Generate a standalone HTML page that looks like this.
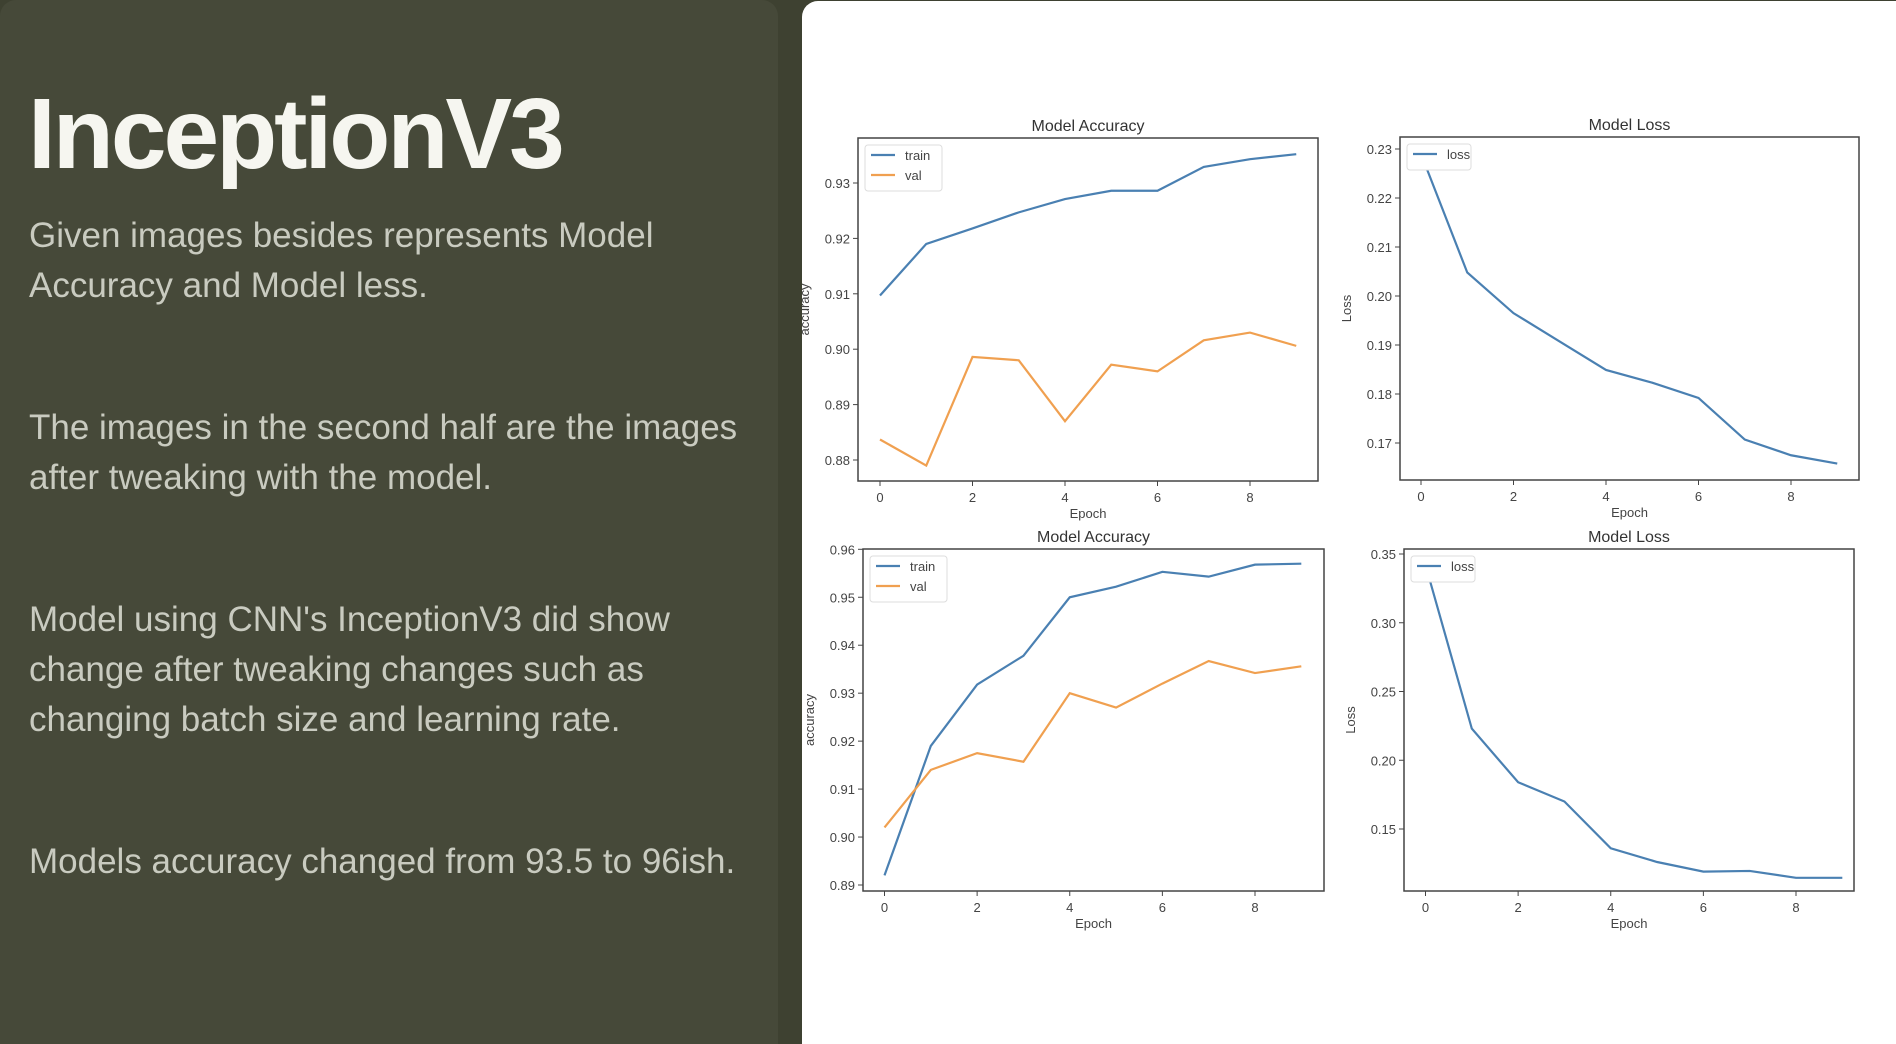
<!DOCTYPE html>
<html><head><meta charset="utf-8">
<style>
html,body{margin:0;padding:0;overflow:hidden;width:1896px;height:1044px}
body{background:#3e4131;position:relative;font-family:"Liberation Sans",sans-serif}
#left{position:absolute;left:0;top:0;width:778px;height:1044px;background:#464939;border-radius:16px 16px 0 0}
#right{position:absolute;left:802px;top:1px;width:1094px;height:1043px;background:#fff;border-radius:16px 0 0 0}
.title{position:absolute;left:28px;top:84px;font-size:100px;font-weight:bold;color:#f6f6f0;line-height:1;letter-spacing:-3px}
.p{position:absolute;left:29px;font-size:35px;color:#c9cbc0;line-height:50px}
svg{position:absolute;left:0;top:0}
</style></head>
<body>
<div id="left"></div>
<div id="right"></div>
<div class="title">InceptionV3</div>
<div class="p" style="top:211px">Given images besides represents Model<br>Accuracy and Model less.</div>
<div class="p" style="top:403px">The images in the second half are the images<br>after tweaking with the model.</div>
<div class="p" style="top:595px">Model using CNN's InceptionV3 did show<br>change after tweaking changes such as<br>changing batch size and learning rate.</div>
<div class="p" style="top:837px">Models accuracy changed from 93.5 to 96ish.</div>
<svg id="charts" width="1896" height="1044"></svg>
<script>
const epochs=[0,1,2,3,4,5,6,7,8,9];
const xTicks=[0,2,4,6,8];
const acc1Train=[0.9097,0.9190,0.9218,0.9247,0.9271,0.9286,0.9286,0.9329,0.9343,0.9352];
const acc1Val=[0.8837,0.8790,0.8986,0.8980,0.8870,0.8972,0.8960,0.9016,0.9030,0.9006];
const acc1Ticks=[0.88,0.89,0.90,0.91,0.92,0.93];
const loss1=[0.2290,0.2048,0.1965,0.1907,0.1849,0.1823,0.1792,0.1707,0.1675,0.1658];
const loss1Ticks=[0.17,0.18,0.19,0.20,0.21,0.22,0.23];
const acc2Train=[0.8920,0.9190,0.9318,0.9378,0.9500,0.9522,0.9553,0.9543,0.9568,0.9570];
const acc2Val=[0.9020,0.9140,0.9175,0.9157,0.9300,0.9270,0.9320,0.9367,0.9342,0.9356];
const acc2Ticks=[0.89,0.90,0.91,0.92,0.93,0.94,0.95,0.96];
const loss2=[0.342,0.223,0.184,0.170,0.136,0.126,0.119,0.1195,0.1145,0.1145];
const loss2Ticks=[0.15,0.20,0.25,0.30,0.35];

const NS='http://www.w3.org/2000/svg';
const svg=document.getElementById('charts');
const BLUE='#4a80b2',ORANGE='#f0a050';
function mk(tag,attrs,parent){const e=document.createElementNS(NS,tag);for(const k in attrs)e.setAttribute(k,attrs[k]);(parent||svg).appendChild(e);return e;}

function chart(c){
  const g=mk('g',{});
  
  
  const X=v=>c.x0+(v-0)*(c.x8-c.x0)/8;
  const Y=v=>c.yp0+(v-c.t0)*(c.yp1-c.yp0)/(c.t1-c.t0);
  const r=mk('rect',{x:c.l,y:c.t,width:c.r-c.l,height:c.b-c.t,fill:'none',stroke:'#444','stroke-width':1.5},g);
  
  
  const ti=mk('text',{x:(c.l+c.r)/2,y:c.t-7,'text-anchor':'middle','font-size':16,fill:'#333'},g);ti.textContent=c.title;
  
  
  xTicks.forEach(t=>{
    mk('line',{x1:X(t),x2:X(t),y1:c.b,y2:c.b+5,stroke:'#444'},g);
    const tx=mk('text',{x:X(t),y:c.b+21,'text-anchor':'middle','font-size':13,fill:'#444'},g);tx.textContent=t;
    
    
  });
  c.ticks.forEach(t=>{
    mk('line',{x1:c.l-5,x2:c.l,y1:Y(t),y2:Y(t),stroke:'#444'},g);
    const ty=mk('text',{x:c.l-8,y:Y(t)+5,'text-anchor':'end','font-size':13,fill:'#444'},g);ty.textContent=t.toFixed(2);
    
    
  });
  const xl=mk('text',{x:(c.l+c.r)/2,y:c.b+37,'text-anchor':'middle','font-size':13,fill:'#444'},g);xl.textContent='Epoch';
  
  
  const yx=c.l-49,yy=(c.t+c.b)/2;
  const yl=mk('text',{x:yx,y:yy,'text-anchor':'middle','font-size':13,fill:'#444',transform:`rotate(-90 ${yx} ${yy})`},g);yl.textContent=c.ylabel;
  
  
  c.series.forEach(s=>{
    const p=mk('polyline',{points:s.data.map((v,i)=>X(epochs[i])+','+Y(v)).join(' '),fill:'none',stroke:s.color,'stroke-width':2.2},g);
    
    
  });
  const lh=c.series.length*20+6;
  const lb=mk('rect',{x:c.l+7,y:c.t+7,width:c.series.length>1?77:64,height:lh,fill:'#fff',stroke:'#ddd',rx:3},g);
  
  
  c.series.forEach((s,i)=>{
    const ly=c.t+17+i*20;
    mk('line',{x1:c.l+13,x2:c.l+37,y1:ly,y2:ly,stroke:s.color,'stroke-width':2.2},g);
    const lt=mk('text',{x:c.l+47,y:ly+5,'font-size':13,fill:'#444'},g);lt.textContent=s.label;
    
    
  });
}
chart({name:'accuracy-chart-before',title:'Model Accuracy',ylabel:'accuracy',l:858,r:1318,t:138,b:481,x0:880,x8:1250,t0:0.88,t1:0.93,yp0:460,yp1:183,ticks:acc1Ticks,
  series:[{label:'train',data:acc1Train,color:BLUE},{label:'val',data:acc1Val,color:ORANGE}]});
chart({name:'loss-chart-before',title:'Model Loss',ylabel:'Loss',l:1400,r:1859,t:137,b:480,x0:1421,x8:1791,t0:0.17,t1:0.23,yp0:443,yp1:149,ticks:loss1Ticks,
  series:[{label:'loss',data:loss1,color:BLUE}]});
chart({name:'accuracy-chart-after',title:'Model Accuracy',ylabel:'accuracy',l:863,r:1324,t:549,b:891,x0:884.5,x8:1255,t0:0.89,t1:0.96,yp0:885,yp1:549.3,ticks:acc2Ticks,
  series:[{label:'train',data:acc2Train,color:BLUE},{label:'val',data:acc2Val,color:ORANGE}]});
chart({name:'loss-chart-after',title:'Model Loss',ylabel:'Loss',l:1404,r:1854,t:549,b:891,x0:1425.5,x8:1796,t0:0.15,t1:0.35,yp0:829,yp1:554,ticks:loss2Ticks,
  series:[{label:'loss',data:loss2,color:BLUE}]});
</script>
</body></html>
